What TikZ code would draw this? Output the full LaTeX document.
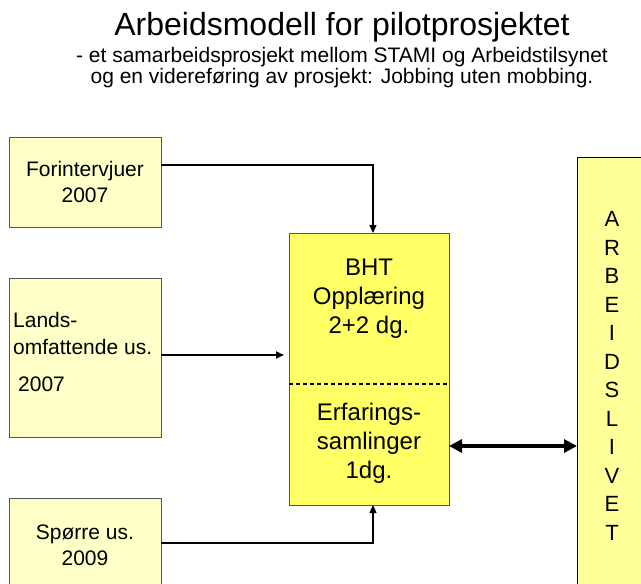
\documentclass[tikz,border=0pt]{standalone}
\usepackage{fontspec}
\setmainfont{Liberation Sans}
\usetikzlibrary{arrows.meta}
\definecolor{paleyellow}{HTML}{FFFFC8}
\definecolor{midyellow}{HTML}{FFFF66}
\definecolor{lifeyellow}{HTML}{FFFF99}
\definecolor{boxline}{HTML}{555555}
\begin{document}
\begin{tikzpicture}[x=1pt,y=-1pt,
  srcbox/.style={draw=boxline, fill=paleyellow, line width=1pt, rectangle, inner sep=0pt, outer sep=0pt,
    minimum width=152pt, align=center, font=\fontsize{21}{26}\selectfont},
  srctext/.style={anchor=base west, inner sep=0pt, font=\fontsize{21}{26}\selectfont},
  bhtbox/.style={draw=boxline, fill=midyellow, line width=1pt, rectangle, inner sep=0pt, outer sep=0pt,
    minimum width=160pt, minimum height=272pt},
  bhttext/.style={align=center, inner sep=0pt, font=\fontsize{24}{29}\selectfont},
  lifebox/.style={draw=black, fill=lifeyellow, line width=1pt, rectangle, inner sep=0pt, outer sep=0pt,
    minimum width=73pt, minimum height=443pt},
  lifetext/.style={align=center, inner sep=0pt, font=\fontsize{22}{28.5}\selectfont},
  link/.style={draw=black, line width=1.2pt, -{Triangle[length=8pt,width=7pt]}},
  biglink/.style={draw=black, line width=3.5pt, {Triangle[length=13pt,width=13pt]}-{Triangle[length=13pt,width=13pt]}}
]
\useasboundingbox (0,0) rectangle (641,584);
\clip (0,0) rectangle (641,584);
\fill[white] (0,0) rectangle (641,584);

% title
\node[anchor=base, inner sep=0pt, font=\fontsize{32}{36}\selectfont] (title) at (342,35) {Arbeidsmodell for pilotprosjektet};
\node[anchor=base, inner sep=0pt, font=\fontsize{21}{24}\selectfont] (sub1) at (342,62) {- et samarbeidsprosjekt mellom STAMI og Arbeidstilsynet};
\node[anchor=base, inner sep=0pt, font=\fontsize{21}{24}\selectfont] (sub2) at (342,83) {og en videreføring av prosjekt: Jobbing uten mobbing.};

% source boxes
\node[srcbox, minimum height=90pt] (forint) at (85,182) {Forintervjuer\\2007};
\node[srcbox, minimum height=159pt] (lands) at (85,357.5) {};
\node[srctext] (landsA) at (13,327) {Lands-};
\node[srctext] (landsB) at (13,354) {omfattende us.};
\node[srctext] (landsC) at (18,391) {2007};
\node[srcbox, minimum height=94pt] (sporre) at (85,545) {Spørre us.\\2009};

% central box
\node[bhtbox] (bht) at (369,369) {};
\node[bhttext] (bhtA) at (369,299) {BHT\\Opplæring\\2+2 dg.};
\node[bhttext] (bhtB) at (369,443) {Erfarings-\\samlinger\\1dg.};
\coordinate (dashy) at (0,384);
\draw[black, line width=1.4pt, dash pattern=on 4pt off 3pt] (bht.west |- dashy) -- (bht.east |- dashy);

% right box
\node[lifebox] (life) at (613.5,378.5) {};
\node[lifetext] (lifeT) at (612,376) {A\\R\\B\\E\\I\\D\\S\\L\\I\\V\\E\\T};

% connectors
\draw[link] ([yshift=17pt]forint.east) -| ([xshift=4pt]bht.north);
\coordinate (la) at ([yshift=2.5pt]lands.east);
\draw[link, line width=1.8pt, shorten >=5pt] (la) -- (la -| bht.west);
\draw[link] ([yshift=2pt]sporre.east) -| ([xshift=4pt]bht.south);
\coordinate (dy) at (0,446);
\draw[biglink] (bht.east |- dy) -- (life.west |- dy);
\end{tikzpicture}
\end{document}
